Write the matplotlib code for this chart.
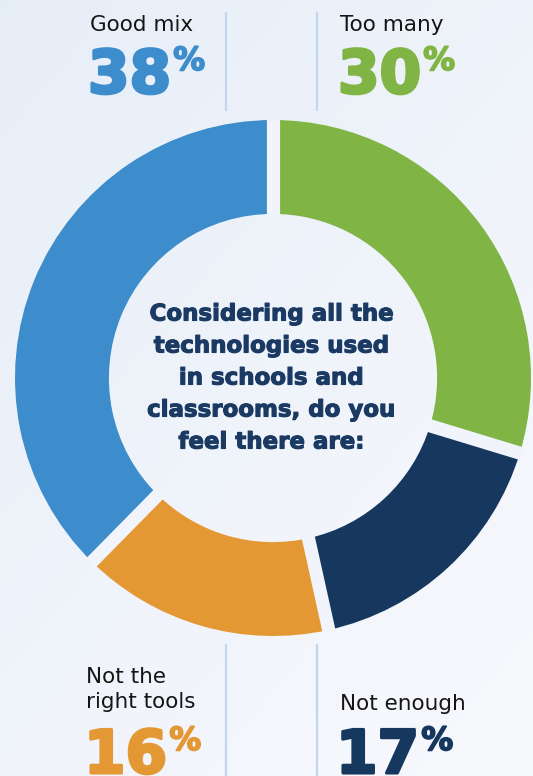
import matplotlib
matplotlib.use('Agg')
import matplotlib.pyplot as plt
import matplotlib.patheffects as pe
from matplotlib.lines import Line2D
import numpy as np

# data
labels = ['Too many', 'Not enough', 'Not the\nright tools', 'Good mix']
values = [30, 17, 16, 38]
colors = ['#80b545', '#16375e', '#e49834', '#3d8ccb']
question = 'Considering all the\ntechnologies used\nin schools and\nclassrooms, do you\nfeel there are:'

W, H = 533, 776
DPI = 100
fig = plt.figure(figsize=(W / DPI, H / DPI), dpi=DPI)


def fx(px):
    return px / W


def fy(py):
    return 1 - py / H


# background gradient
bg = fig.add_axes([0, 0, 1, 1], zorder=0)
yy, xx = np.mgrid[0:1:200j, 0:1:200j]
t = np.clip(0.55 * yy + 0.45 * xx, 0, 1)
c0 = np.array([0.905, 0.933, 0.972])
c1 = np.array([0.972, 0.977, 0.992])
img = c0[None, None, :] * (1 - t[..., None]) + c1[None, None, :] * t[..., None]
bg.imshow(img, extent=[0, 1, 0, 1], aspect='auto', origin='upper')
bg.axis('off')

# donut
cx, cy, R = 273, 378, 258
ax = fig.add_axes([fx(cx - R), fy(cy + R), 2 * R / W, 2 * R / H], zorder=1)
ax.set_facecolor('none')
wedges, _ = ax.pie(values, colors=colors, startangle=90, counterclock=False,
                   radius=1, wedgeprops=dict(width=0.364, linewidth=0))
ax.set_xlim(-1, 1)
ax.set_ylim(-1, 1)
ax.set_aspect('equal')
ax.axis('off')

# gaps between segments
tot = sum(values)
ang = 90.0
for v in values:
    a = np.deg2rad(ang)
    ax.plot([0.63 * np.cos(a), 1.005 * np.cos(a)], [0.63 * np.sin(a), 1.005 * np.sin(a)],
            color='#f1f5fb', lw=9.5, solid_capstyle='butt', zorder=5)
    ang -= v / tot * 360

# centre question
heavy = lambda c, w: [pe.Stroke(linewidth=w, foreground=c), pe.Normal()]
fig.text(fx(271), fy(378), question, ha='center', va='center', fontsize=16.5,
         fontweight='bold', color='#1a3a63', linespacing=1.5, zorder=3,
         path_effects=heavy('#1a3a63', 0.8))

# divider lines
for x in (226, 317):
    fig.add_artist(Line2D([fx(x), fx(x)], [fy(13), fy(110)], color='#c3d6ee', lw=1.6))
    fig.add_artist(Line2D([fx(x), fx(x)], [fy(645), fy(776)], color='#c3d6ee', lw=1.6))

# labels and percentages
fig.canvas.draw()
renderer = fig.canvas.get_renderer()


def pct(x, ytop, value, color):
    t = fig.text(fx(x), fy(ytop), str(value), ha='left', va='top', fontsize=43,
                 fontweight='bold', color=color, zorder=4, path_effects=heavy(color, 2.2))
    bb = t.get_window_extent(renderer=renderer)
    fig.text(bb.x1 / W + fx(2), fy(ytop - 1), '%', ha='left', va='top', fontsize=23,
             fontweight='bold', color=color, zorder=4, path_effects=heavy(color, 1.2))


# Good mix / Too many (top)
fig.text(fx(90), fy(31), labels[3], ha='left', va='baseline', fontsize=15.5, color='#151515')
pct(88, 47, values[3], colors[3])
fig.text(fx(340), fy(31), labels[0], ha='left', va='baseline', fontsize=15.5, color='#151515')
pct(338, 47, values[0], colors[0])

# Not the right tools / Not enough (bottom)
fig.text(fx(86), fy(708), labels[2], ha='left', va='baseline', fontsize=15.5,
         color='#151515', linespacing=1.3)
pct(84, 727, values[2], colors[2])
fig.text(fx(340), fy(710), labels[1], ha='left', va='baseline', fontsize=15.5, color='#151515')
pct(336, 727, values[1], colors[1])

fig.savefig('out.png', dpi=DPI)
